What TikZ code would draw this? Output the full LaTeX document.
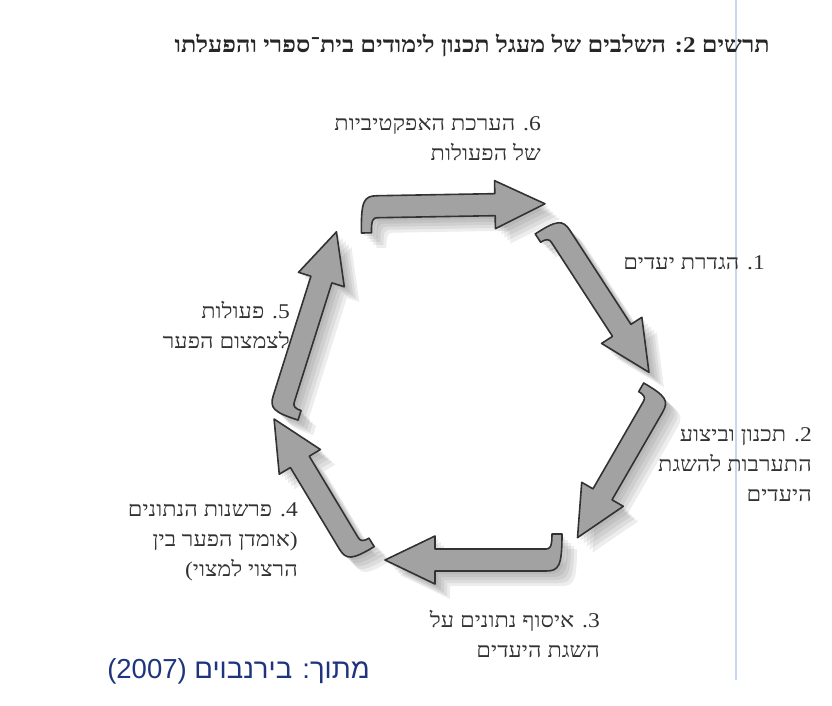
\documentclass[tikz,border=0pt]{standalone}
\usepackage{fontspec}
\TeXXeTstate=1
\newfontfamily\hebfont[Script=Hebrew,FakeStretch=1.12]{Liberation Serif}
\newfontfamily\srcfont[Script=Hebrew]{Liberation Sans}
\tikzset{>=latex}
\definecolor{arrowgray}{RGB}{162,162,162}
\definecolor{shadegray}{RGB}{105,105,105}
\definecolor{inkgray}{RGB}{50,50,50}
\definecolor{scanblue}{RGB}{196,216,240}
\definecolor{srcblue}{RGB}{30,52,125}
\tikzstyle{stage} = [font=\hebfont\fontsize{21}{30}\selectfont, text=inkgray, align=right, inner sep=0pt, anchor=base east]
\tikzstyle{title} = [font=\hebfont\bfseries\fontsize{22.5}{26}\selectfont, text=black!85, inner sep=0pt, anchor=base east]
\tikzstyle{source} = [font=\srcfont\fontsize{27.5}{30}\selectfont, text=srcblue, inner sep=0pt, anchor=base east]
\tikzstyle{arrowbody} = [draw=inkgray, fill=arrowgray, line width=1.6pt, line join=round]
\tikzstyle{arrowshade} = [fill=shadegray, opacity=0.12]
% hooked block arrow: style, x, y, angle, length, hook depth
\newcommand{\stagearrow}[6]{%
  \path[#1,shift={(#2,#3)},rotate=#4] (0,-#6) .. controls (0,6) and (3,11) .. (16,11)
    -- ({#5-50},11) -- ({#5-50},24) -- (#5,0) -- ({#5-50},-24) -- ({#5-50},-11)
    -- (16,-11) .. controls (12,-11) and (10,-13) .. (10,-#6) -- cycle;}
\begin{document}
\begin{tikzpicture}[x=1pt,y=1pt]
\useasboundingbox (0,0) rectangle (832,-705);

% Scan edge
\draw[scanblue, line width=1.5pt] (736,0) -- (736,-680);

% Title
\node[title] (title) at (770,-52) {\beginR תרשים 2\kern0pt: השלבים של מעגל תכנון לימודים בית־ספרי והפעלתו\endR};

% Cycle arrows: x/y/angle/length/hook
\def\arrowlist{361/-207/1/184/26, 552/-223/-57/178/20, 661/-393/-120/167/20,
  562/-560/180/177/26, 357/-557/121/161/20, 279/-414/72.5/191/20}
\foreach \s in {3,6,...,15}
  \foreach \ax/\ay/\aa/\al/\ad in \arrowlist
    \stagearrow{arrowshade}{\ax+\s}{\ay-\s}{\aa}{\al}{\ad};
\foreach \ax/\ay/\aa/\al/\ad in \arrowlist
  \stagearrow{arrowbody}{\ax}{\ay}{\aa}{\al}{\ad};

% Stage labels
\node[stage] (s1) at (765,-269) {\beginR 1\kern0pt. הגדרת יעדים\endR};
\node[stage] (s2) at (812,-501) {\beginR 2\kern0pt. תכנון וביצוע\endR\\\beginR התערבות להשגת\endR\\\beginR היעדים\endR};
\node[stage] (s3) at (600,-657) {\beginR 3\kern0pt. איסוף נתונים על\endR\\\beginR השגת היעדים\endR};
\node[stage] (s4) at (298,-576) {\beginR 4\kern0pt. פרשנות הנתונים\endR\\\beginR (אומדן הפער בין\endR\\\beginR הרצוי למצוי)\endR};
\node[stage] (s5) at (290,-348) {\beginR 5\kern0pt. פעולות\endR\\\beginR לצמצום הפער\endR};
\node[stage] (s6) at (541,-160) {\beginR 6\kern0pt. הערכת האפקטיביות\endR\\\beginR של הפעולות\endR};

% Source
\node[source] (src) at (370,-678) {\beginR מתוך: בירנבוים (2007)\endR};

\end{tikzpicture}
\end{document}
